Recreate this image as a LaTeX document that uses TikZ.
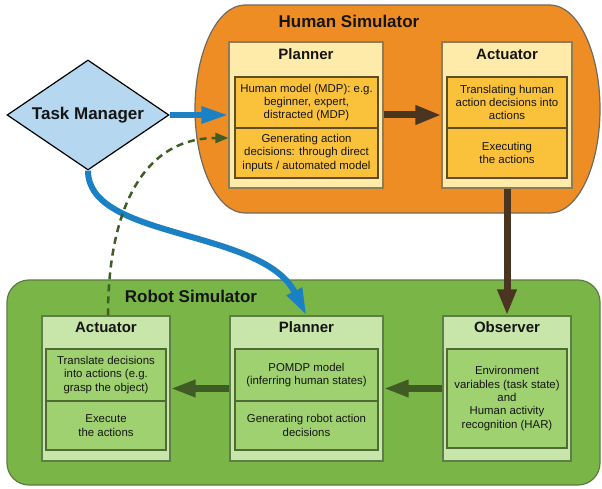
\documentclass[tikz,border=0pt]{standalone}
\usepackage{fontspec}
\setmainfont{Liberation Sans}
\usetikzlibrary{arrows.meta,shapes.geometric}

\definecolor{hsimfill}{HTML}{EE8D24}
\definecolor{simedge}{HTML}{6E6A62}
\definecolor{houtfill}{HTML}{FEEBA9}
\definecolor{houtedge}{HTML}{8C7C58}
\definecolor{hinfill}{HTML}{F9C23A}
\definecolor{hinedge}{HTML}{5E4C26}
\definecolor{rsimfill}{HTML}{7AB548}
\definecolor{rsimedge}{HTML}{5B7E3E}
\definecolor{routfill}{HTML}{C9E6AA}
\definecolor{routedge}{HTML}{5F7D48}
\definecolor{rinfill}{HTML}{9FD170}
\definecolor{rinedge}{HTML}{4E6B36}
\definecolor{brownarrow}{HTML}{4A3520}
\definecolor{greenarrow}{HTML}{3F5C25}
\definecolor{bluearrow}{HTML}{1C81C4}
\definecolor{tmfill}{HTML}{B5D7EF}
\definecolor{txt}{HTML}{151515}

\tikzset{
  simtitle/.style={font=\fontsize{17}{20}\selectfont\bfseries, text=txt, inner sep=0},
  boxtitle/.style={font=\fontsize{15}{18}\selectfont\bfseries, text=txt, inner sep=0},
  body/.style={font=\fontsize{11.4}{13.3}\selectfont, text=txt, align=center, inner sep=0},
  hout/.style={draw=houtedge, fill=houtfill, line width=1.3pt, inner sep=0, minimum height=146},
  hin/.style={body, draw=hinedge, fill=hinfill, line width=1.5pt, minimum width=143},
  rout/.style={draw=routedge, fill=routfill, line width=1.3pt, inner sep=0, minimum height=145},
  rin/.style={body, draw=rinedge, fill=rinfill, line width=1.5pt, minimum width=120},
  brownflow/.style={line width=7pt, draw=brownarrow, -{Triangle[length=26pt,width=18pt]}},
  greenflow/.style={line width=6.5pt, draw=greenarrow, -{Triangle[length=25pt,width=16pt]}},
  blueflow/.style={line width=6pt, draw=bluearrow, -{Triangle[length=27pt,width=16pt]}},
  feedback/.style={line width=2.5pt, draw=greenarrow, dash pattern=on 7pt off 5pt, -{Triangle[length=13pt,width=10pt]}},
}

\begin{document}
\begin{tikzpicture}[x=1pt,y=-1pt]
\useasboundingbox (0,0) rectangle (602,489);

% ---- simulator containers ----
\draw[fill=hsimfill, draw=simedge, line width=1.2pt]
  (245,5) -- (550,5) arc[start angle=-90, end angle=90, x radius=50, y radius=104]
  -- (245,213) arc[start angle=90, end angle=270, x radius=50, y radius=104] -- cycle;
\node[simtitle] (hsimtitle) at (349,21) {Human Simulator};

\draw[fill=rsimfill, draw=rsimedge, line width=1.2pt, rounded corners=22pt]
  (7,280) rectangle (600,485);
\node[simtitle] (rsimtitle) at (191,296) {Robot Simulator};

% ---- human simulator ----
\node[hout, minimum width=154] (hplan) at (306,115) {};
\node[boxtitle] (hplantitle) at (306,54) {Planner};
\node[hin, minimum height=51] (hmodel) at (306.5,102.5) {Human model (MDP): e.g.\\beginner, expert,\\distracted (MDP)};
\node[hin, minimum height=50] (hgen) at (306.5,153) {Generating action\\decisions: through direct\\inputs / automated model};

\node[hout, minimum width=130] (hact) at (507,115) {};
\node[boxtitle] (hacttitle) at (507,54) {Actuator};
\node[hin, minimum width=120, minimum height=51] (htrans) at (507,102.5) {Translating human\\action decisions into\\actions};
\node[hin, minimum width=120, minimum height=50] (hexec) at (507,153) {Executing\\the actions};

% ---- robot simulator ----
\node[rout, minimum width=128] (ract) at (106,388.5) {};
\node[boxtitle] (racttitle) at (106,327) {Actuator};
\node[rin, minimum height=52] (rtrans) at (106,375) {Translate decisions\\into actions (e.g.\\grasp the object)};
\node[rin, minimum height=49] (rexec) at (106,425.5) {Execute\\the actions};

\node[rout, minimum width=153] (rplan) at (306.5,388.5) {};
\node[boxtitle] (rplantitle) at (306.5,327) {Planner};
\node[rin, minimum width=143, minimum height=52] (rpomdp) at (306.5,375) {POMDP model\\(inferring human states)};
\node[rin, minimum width=143, minimum height=49] (rgen) at (306.5,425.5) {Generating robot action\\decisions};

\node[rout, minimum width=128] (robs) at (507,388.5) {};
\node[boxtitle] (robstitle) at (507,327) {Observer};
\node[rin, minimum height=99] (renv) at (507,398.5) {Environment\\variables (task state)\\and\\Human activity\\recognition (HAR)};

% ---- task manager ----
\node[diamond, draw=black, fill=tmfill, line width=1.2pt, minimum width=162, minimum height=110, inner sep=0, aspect=1.47,
      font=\fontsize{17}{20}\selectfont\bfseries, text=txt] (tm) at (88,115) {Task Manager};

% ---- connectors ----
\draw[brownflow] (hplan.east) -- (hact.west);
\draw[brownflow] (hact.south) -- (robs.north);
\draw[greenflow] (robs.west) -- (rplan.east);
\draw[greenflow] (rplan.west) -- (ract.east);
\draw[blueflow] (tm.east) -- (hplan.west);
\draw[blueflow] (tm.south) .. controls (88,240) and (262,228) .. (rplan.north);
\draw[feedback] ([xshift=2pt]ract.north) .. controls (108,215) and (140,138) .. ([yshift=-23pt]hplan.west);
\end{tikzpicture}
\end{document}
